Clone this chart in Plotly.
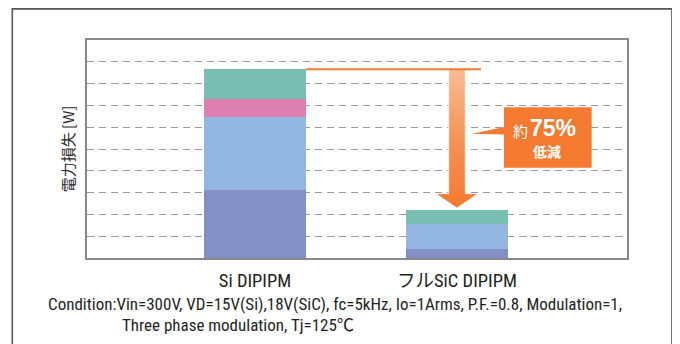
import plotly.graph_objects as go

# ---- data ----
categories = ["Si DIPIPM", "フルSiC DIPIPM"]
x_pos = [0, 1]
seg1 = [3.14, 0.40]   # bottom (purple-blue)
seg2 = [3.34, 1.14]   # light blue
seg3 = [0.82, 0.00]   # pink
seg4 = [1.36, 0.64]   # teal (top)
seg_names = ["損失1", "損失2", "損失3", "損失4"]
seg_colors = ["#8290C6", "#94B7E1", "#DE7FB2", "#7ABFB3"]
y_title = "電力損失 [W]"
reduction_pct = "75%"
condition_1 = "Condition:Vin=300V, VD=15V(Si),18V(SiC), fc=5kHz, Io=1Arms, P.F.=0.8, Modulation=1,"
condition_2 = "Three phase modulation, Tj=125℃"

BAR_W = 0.505
ORANGE = "#F37A30"
COND_FONT = "Roboto Condensed, Noto Sans CJK JP, sans-serif"

totals = [a + b + c + d for a, b, c, d in zip(seg1, seg2, seg3, seg4)]

fig = go.Figure()
for vals, name, col in zip([seg1, seg2, seg3, seg4], seg_names, seg_colors):
    fig.add_trace(go.Bar(x=x_pos, y=vals, name=name, marker=dict(color=col, line=dict(width=0)),
                         width=BAR_W, showlegend=False, hoverinfo="skip"))

# arrow (from Si total down to SiC total) with vertical gradient
top = totals[0]
tip = totals[1] + 0.11
head_base = tip + 0.66
ax = x_pos[1]
sw, hw = 0.041, 0.104
fig.add_trace(go.Scatter(
    x=[ax - sw, ax + sw, ax + sw, ax + hw, ax, ax - hw, ax - sw, ax - sw],
    y=[top, top, head_base, head_base, tip, head_base, head_base, top],
    mode="lines", fill="toself", line=dict(width=1, color="rgba(255,255,255,0.7)"),
    fillgradient=dict(type="vertical", colorscale=[[0, "#F47A30"], [0.45, "#F58F52"], [1, "#FABB93"]],
                      start=tip, stop=top),
    showlegend=False, hoverinfo="skip"))

shapes = []
# horizontal reference line from Si bar top
shapes.append(dict(type="line", xref="x", yref="y", x0=x_pos[0] + BAR_W / 2, x1=1.119,
                   y0=top, y1=top, line=dict(color=ORANGE, width=2), layer="above"))
# callout box + pointer
shapes.append(dict(type="rect", xref="x", yref="y", x0=1.233, x1=1.667, y0=4.14, y1=6.91,
                   fillcolor=ORANGE, line=dict(width=0), layer="above"))
shapes.append(dict(type="path", xref="x", yref="y",
                   path="M 1.240 6.02 L 1.073 5.70 L 1.240 5.66 Z",
                   fillcolor=ORANGE, line=dict(width=0), layer="above"))
# outer frame
shapes.append(dict(type="rect", xref="paper", yref="paper", x0=-0.1383, x1=1.0833, y0=-0.5, y1=1.143,
                   line=dict(color="#555555", width=1.6), fillcolor="rgba(0,0,0,0)", layer="below"))

annotations = [
    dict(text="約", xref="x", yref="y", x=1.314, y=5.85, showarrow=False,
         font=dict(family="Noto Sans CJK JP", size=15, color="white"), xanchor="center", yanchor="middle"),
    dict(text="<b>" + reduction_pct + "</b>", xref="x", yref="y", x=1.478, y=5.98, showarrow=False,
         font=dict(family="Liberation Sans, Arial, sans-serif", size=23, color="white"),
         xanchor="center", yanchor="middle"),
    dict(text="<b>低減</b>", xref="x", yref="y", x=1.448, y=4.93, showarrow=False,
         font=dict(family="Noto Sans CJK JP", size=14, color="white"), xanchor="center", yanchor="middle"),
    dict(text=y_title, xref="paper", yref="paper", x=0, y=0.5, xshift=-19.7, textangle=-90,
         showarrow=False, font=dict(family="Noto Sans CJK JP", size=15, color="#2a2a2a"),
         xanchor="center", yanchor="middle"),
    dict(text=condition_1, xref="paper", yref="paper", x=-0.0748, y=-0.2133, showarrow=False,
         font=dict(family=COND_FONT, size=17, color="#231F20"), xanchor="left", yanchor="middle",
         borderpad=0),
    dict(text=condition_2, xref="paper", yref="paper", x=0.0624, y=-0.3096, showarrow=False,
         font=dict(family=COND_FONT, size=17, color="#231F20"), xanchor="left", yanchor="middle",
         borderpad=0),
]

fig.update_layout(
    width=672, height=336,
    margin=dict(l=79, r=53, t=32, b=86),
    paper_bgcolor="white", plot_bgcolor="white",
    barmode="stack", bargap=0,
    shapes=shapes, annotations=annotations,
    xaxis=dict(range=[-0.832, 1.842], tickvals=x_pos, ticktext=categories,
               tickfont=dict(family=COND_FONT, size=18.5, color="#231F20"),
               showgrid=False, zeroline=False, showline=True, mirror=True,
               linecolor="#8A8A8A", linewidth=2, ticks="", ticklabelstandoff=5, fixedrange=True),
    yaxis=dict(range=[0, 10], dtick=1, showticklabels=False, ticks="",
               showgrid=True, gridcolor="#9A9A9A", gridwidth=1.2, griddash="7px,5px",
               zeroline=False, showline=True, mirror=True, linecolor="#8A8A8A", linewidth=2,
               fixedrange=True),
)

fig.write_html("out.html")
